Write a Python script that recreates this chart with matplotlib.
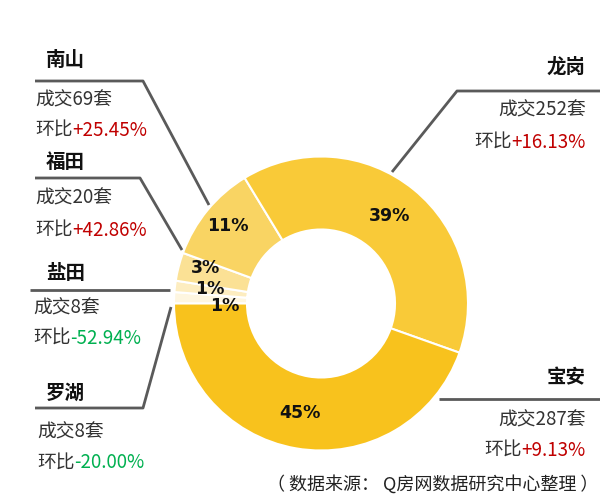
import matplotlib
matplotlib.use("Agg")
import matplotlib.pyplot as plt

plt.rcParams['font.family'] = ['Noto Sans CJK SC', 'DejaVu Sans']

# Data (clockwise from the left, 180°)
districts = ['罗湖', '盐田', '福田', '南山', '龙岗', '宝安']
deals = [8, 8, 20, 69, 252, 287]
pct_labels = ['1%', '1%', '3%', '11%', '39%', '45%']
mom = ['-20.00%', '-52.94%', '+42.86%', '+25.45%', '+16.13%', '+9.13%']
colors = ['#FEF6E0', '#FDEDC0', '#FBE195', '#F9D463', '#F9CA38', '#F8C21D']

W, H = 600, 504
fig = plt.figure(figsize=(W / 100, H / 100), dpi=100)
ax = fig.add_axes([0, 0, 1, 1])

def Y(p):
    return H - p

cx, cy, R, r_in = 321, 303.5, 147, 74
ax.pie(deals, colors=colors, startangle=180, counterclock=False,
       center=(cx, Y(cy)), radius=R,
       wedgeprops=dict(width=R - r_in, edgecolor='white', linewidth=1.5))
ax.set_xlim(0, W)
ax.set_ylim(0, H)
ax.set_aspect('auto')
ax.axis('off')

# percentage labels (pixel positions)
pct_pos = [(225, 306), (210, 289), (205, 268), (228, 226), (390, 216), (300, 413)]
for lab, (px, py) in zip(pct_labels, pct_pos):
    ax.text(px, Y(py), lab, ha='center', va='center', fontsize=12.5,
            fontweight='bold', color='#111111', family=['DejaVu Sans'])

line_kw = dict(color='#5a5a5a', lw=2, solid_capstyle='butt')
# leader lines
leaders = {
    '南山': [(35, 81), (143, 81), (209, 205)],
    '福田': [(35, 178), (140, 178), (182, 250)],
    '盐田': [(30, 290), (170, 290)],
    '罗湖': [(35, 408), (143, 408), (171, 307)],
    '龙岗': [(600, 91), (457, 91), (392, 172)],
    '宝安': [(600, 399), (439, 399)],
}
for name, pts in leaders.items():
    ax.plot([p[0] for p in pts], [Y(p[1]) for p in pts], **line_kw)

# text blocks: name (x, y), deals line (x, y), mom line (x, y), ha
blocks = {
    '南山': ((46, 60), (35, 100), (35, 130), 'left'),
    '福田': ((46, 162), (35, 198), (35, 230), 'left'),
    '盐田': ((46, 273), (33, 308), (33, 338), 'left'),
    '罗湖': ((46, 393), (37, 432), (37, 463), 'left'),
    '龙岗': ((586, 67), (586, 110), (586, 142), 'right'),
    '宝安': ((586, 378), (586, 420), (586, 450), 'right'),
}
fs = 13.5
fig.canvas.draw()
inv = ax.transData.inverted()
for name, d, m in zip(districts, deals, mom):
    (nx, ny), (dx, dy), (mx, my), ha = blocks[name]
    ax.text(nx, Y(ny), name, ha=ha, va='center', fontsize=14,
            fontweight='bold', color='#111111')
    ax.text(dx, Y(dy), f'成交{d}套', ha=ha, va='center', fontsize=fs,
            color='#333333')
    mcol = '#C00000' if m.startswith('+') else '#00B050'
    if ha == 'left':
        t = ax.text(mx, Y(my), '环比', ha='left', va='center', fontsize=fs,
                    color='#333333')
        bb = t.get_window_extent(renderer=fig.canvas.get_renderer())
        x1 = inv.transform((bb.x1, bb.y0))[0]
        ax.text(x1, Y(my), m, ha='left', va='center', fontsize=fs, color=mcol)
    else:
        t = ax.text(mx, Y(my), m, ha='right', va='center', fontsize=fs,
                    color=mcol)
        bb = t.get_window_extent(renderer=fig.canvas.get_renderer())
        x0 = inv.transform((bb.x0, bb.y0))[0]
        ax.text(x0, Y(my), '环比', ha='right', va='center', fontsize=fs,
                color='#333333')

ax.text(598, Y(484), '（ 数据来源： Q房网数据研究中心整理 ）', ha='right',
        va='center', fontsize=13, color='#222222')

fig.savefig('out.png', dpi=100)
